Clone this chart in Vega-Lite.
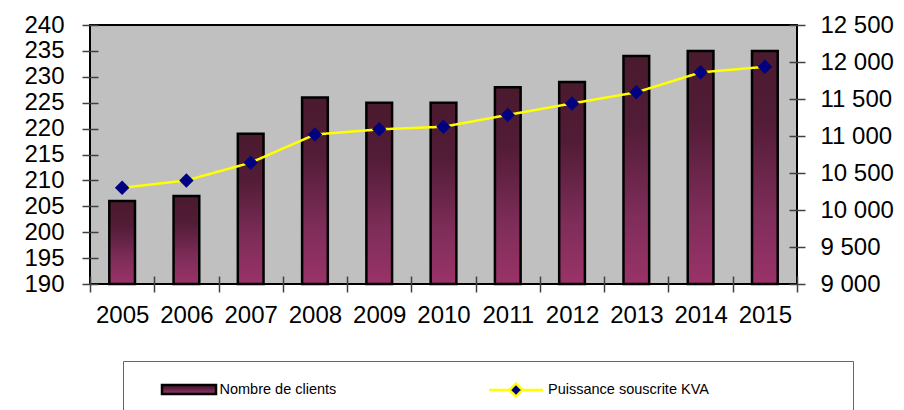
{
  "$schema": "https://vega.github.io/schema/vega-lite/v6.json",
  "width": 707,
  "height": 259,
  "autosize": "none",
  "padding": {"left": 90, "top": 25, "right": 107, "bottom": 126},
  "background": "white",
  "config": {
    "font": "Liberation Sans",
    "view": {"fill": "#c0c0c0", "stroke": "#000000", "strokeWidth": 2},
    "axisX": {
      "labelAngle": 0,
      "labelFont": "Liberation Sans",
      "labelFontSize": 24,
      "labelColor": "#000000",
      "offset": -8,
      "tickSize": 16,
      "labelPadding": 11,
      "tickBand": "extent",
      "tickColor": "#404040",
      "tickWidth": 1.5,
      "domain": false,
      "grid": false
    }
  },
  "data": {
    "values": [
      {"year": "2005", "clients": 206, "kva": 10300},
      {"year": "2006", "clients": 207, "kva": 10400},
      {"year": "2007", "clients": 219, "kva": 10640},
      {"year": "2008", "clients": 226, "kva": 11020},
      {"year": "2009", "clients": 225, "kva": 11090},
      {"year": "2010", "clients": 225, "kva": 11125},
      {"year": "2011", "clients": 228, "kva": 11285},
      {"year": "2012", "clients": 229, "kva": 11440},
      {"year": "2013", "clients": 234, "kva": 11590},
      {"year": "2014", "clients": 235, "kva": 11860},
      {"year": "2015", "clients": 235, "kva": 11935}
    ]
  },
  "encoding": {
    "x": {
      "field": "year",
      "type": "ordinal",
      "title": null,
      "scale": {"paddingInner": 0, "paddingOuter": 0}
    }
  },
  "layer": [
    {
      "mark": {
        "type": "bar",
        "width": {"band": 0.4},
        "strokeWidth": 2.5,
        "fill": {
          "gradient": "linear",
          "x1": 0, "y1": 0, "x2": 0, "y2": 1,
          "stops": [
            {"offset": 0, "color": "#4a1a2e"},
            {"offset": 0.3, "color": "#521c36"},
            {"offset": 0.7, "color": "#7e2d59"},
            {"offset": 1, "color": "#9a3368"}
          ]
        }
      },
      "encoding": {
        "y": {
          "field": "clients",
          "type": "quantitative",
          "title": null,
          "scale": {"domain": [190, 240], "nice": false, "zero": false},
          "axis": {
            "orient": "left",
            "values": [190, 195, 200, 205, 210, 215, 220, 225, 230, 235, 240],
            "labelOverlap": false,
            "labelFont": "Liberation Sans",
            "labelFontSize": 24,
            "labelColor": "#000000",
            "offset": -8,
            "tickSize": 16,
            "labelPadding": 18,
            "tickColor": "#404040",
            "tickWidth": 1.5,
            "domain": false,
            "grid": false
          }
        },
        "y2": {"datum": 190},
        "stroke": {
          "datum": "Nombre de clients",
          "scale": {"range": ["#000000"]},
          "legend": {
            "title": "\u00a0",
            "titleOrient": "right",
            "titleAnchor": "start",
            "titleBaseline": "top",
            "titleFontSize": 60,
            "titlePadding": 517,
            "orient": "none",
            "legendX": 33,
            "legendY": 336,
            "padding": 0,
            "strokeColor": "#666666",
            "fillColor": "#ffffff",
            "symbolType": "M-1,-0.17H1V0.17H-1Z",
            "symbolSize": 2916,
            "symbolStrokeWidth": 2.5,
            "symbolOffset": 37.5,
            "labelOffset": 2,
            "labelFont": "Liberation Sans",
            "labelFontSize": 14.5,
            "labelColor": "#000000",
            "labelLimit": 400
          }
        }
      }
    },
    {
      "encoding": {
        "y": {
          "field": "kva",
          "type": "quantitative",
          "title": null,
          "scale": {"domain": [9000, 12500], "nice": false, "zero": false},
          "axis": {
            "orient": "right",
            "values": [9000, 9500, 10000, 10500, 11000, 11500, 12000, 12500],
            "labelOverlap": false,
            "labelExpr": "replace(format(datum.value, ','), ',', ' ')",
            "labelFont": "Liberation Sans",
            "labelFontSize": 24,
            "labelColor": "#000000",
            "offset": -8,
            "tickSize": 16,
            "labelPadding": 15,
            "tickColor": "#404040",
            "tickWidth": 1.5,
            "domain": false,
            "grid": false
          }
        }
      },
      "layer": [
        {
          "mark": {"type": "line", "stroke": "#ffff00", "strokeWidth": 2.5},
          "encoding": {
            "strokeDash": {
              "datum": "Puissance souscrite KVA",
              "scale": {"range": [[1, 0]]},
              "legend": {
                "title": null,
                "orient": "none",
                "legendX": 393.75,
                "legendY": 357.75,
                "padding": 0,
                "symbolType": "M-5.4,0H-1.3M1.3,0H5.4M0,-1.3L1.3,0L0,1.3L-1.3,0Z",
                "symbolSize": 100,
                "symbolStrokeColor": "#ffff00",
                "symbolFillColor": "#000080",
                "symbolStrokeWidth": 2.5,
                "symbolOffset": 25,
                "labelOffset": 24.75,
                "labelFont": "Liberation Sans",
                "labelFontSize": 14.5,
                "labelColor": "#000000",
                "labelLimit": 400
              }
            }
          }
        },
        {
          "mark": {"type": "point", "shape": "diamond", "filled": true, "color": "#000080", "size": 210, "opacity": 1}
        }
      ]
    }
  ],
  "resolve": {"scale": {"y": "independent"}}
}
